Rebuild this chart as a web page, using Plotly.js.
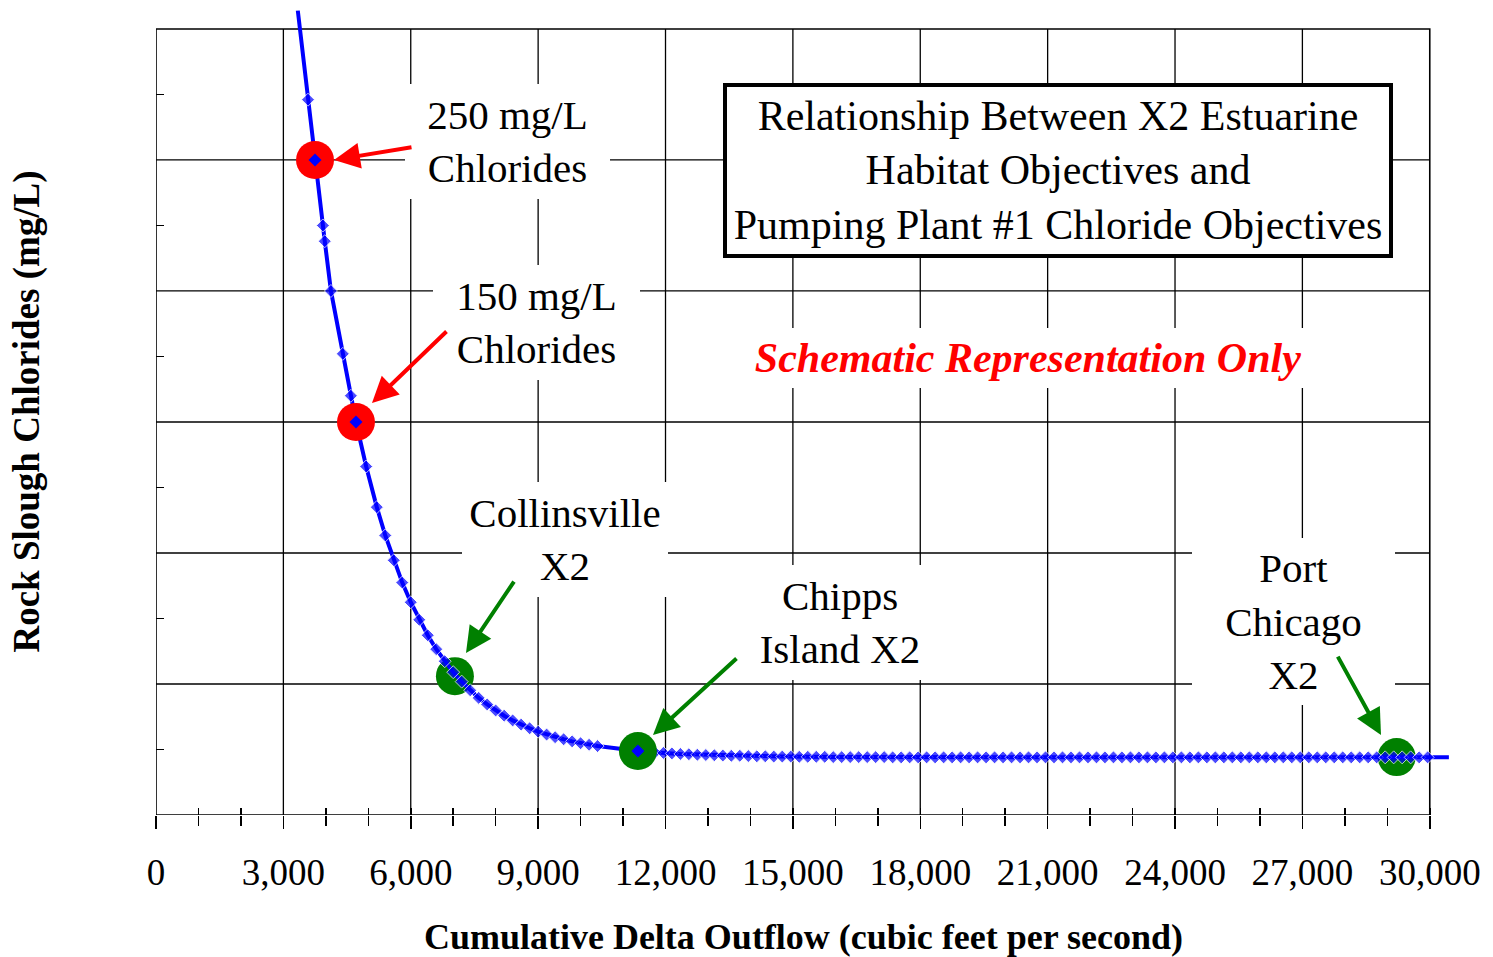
<!DOCTYPE html>
<html>
<head>
<meta charset="utf-8">
<script src="https://cdn.plot.ly/plotly-3.0.1.min.js"></script>
<style>
html,body{margin:0;padding:0;background:#fff;}
#chart{width:1493px;height:957px;}
</style>
</head>
<body>
<div id="chart"></div>
<script>
// ---- Curve: cumulative Delta outflow (cfs) vs Rock Slough chlorides (mg/L) ----
const flowCfs = [
  3340, 3580, 3745, 3930, 3975, 4120, 4400, 4590, 4710, 4950,
  5200, 5400, 5600, 5800, 6000, 6200, 6400, 6600, 6800, 7000,
  7200, 7400, 7600, 7800, 8000, 8200, 8400, 8600, 8800, 9000,
  9200, 9400, 9600, 9800, 10000, 10200, 10400,
  11350, 11550, 11750, 11950, 12150, 12350, 12550, 12750, 12950, 13150,
  13350, 13550, 13750, 13950, 14150, 14350, 14550, 14750, 14950, 15150,
  15350, 15550, 15750, 15950, 16150, 16350, 16550, 16750, 16950, 17150,
  17350, 17550, 17750, 17950, 18150, 18350, 18550, 18750, 18950, 19150,
  19350, 19550, 19750, 19950, 20150, 20350, 20550, 20750, 20950, 21150,
  21350, 21550, 21750, 21950, 22150, 22350, 22550, 22750, 22950, 23150,
  23350, 23550, 23750, 23950, 24150, 24350, 24550, 24750, 24950, 25150,
  25350, 25550, 25750, 25950, 26150, 26350, 26550, 26750, 26950, 27150,
  27350, 27550, 27750, 27950, 28150, 28350, 28550, 28750, 28950, 29150,
  29350, 29550, 29750, 29950, 30450
];
const chlorideMgL = [
  307, 273, 250, 225, 219, 200, 176, 160, 150, 133,
  117.5, 106.7, 97.2, 88.7, 81.2, 74.5, 68.6, 63.3, 58.7, 54.5,
  50.9, 47.6, 44.7, 42.2, 39.9, 37.9, 36.1, 34.5, 33.1, 31.8,
  30.7, 29.7, 28.9, 28.1, 27.4, 26.8, 26.3,
  24.4, 24.1, 23.9, 23.7, 23.5, 23.3, 23.2, 23.0, 22.9, 22.8,
  22.7, 22.6, 22.6, 22.5, 22.4, 22.4, 22.3, 22.3, 22.3, 22.2,
  22.2, 22.2, 22.2, 22.1, 22.1, 22.1, 22.1, 22.1, 22.1, 22.1,
  22.0, 22.0, 22.0, 22.0, 22.0, 22.0, 22.0, 22.0, 22.0, 22.0,
  22.0, 22.0, 22.0, 22.0, 22.0, 22.0, 22.0, 22.0, 22.0, 22.0,
  22.0, 22.0, 22.0, 22.0, 22.0, 22.0, 22.0, 22.0, 22.0, 22.0,
  22.0, 22.0, 22.0, 22.0, 22.0, 22.0, 22.0, 22.0, 22.0, 22.0,
  22.0, 22.0, 22.0, 22.0, 22.0, 22.0, 22.0, 22.0, 22.0, 22.0,
  22.0, 22.0, 22.0, 22.0, 22.0, 22.0, 22.0, 22.0, 22.0, 22.0,
  22.0, 22.0, 22.0, 22.0, 22.0
];

// ---- Chloride objective points ----
const limitNames = ['250 mg/L Chlorides', '150 mg/L Chlorides'];
const limitFlow = [3745, 4710];
const limitChloride = [250, 150];

// ---- X2 location points ----
const x2Names = ['Collinsville X2', 'Chipps Island X2', 'Port Chicago X2'];
const x2Flow = [7040, 11350, 29220];
const x2Chloride = [53, 24.4, 22.1];

// ---- Axis ticks ----
const xTickVals = [0, 3000, 6000, 9000, 12000, 15000, 18000, 21000, 24000, 27000, 30000];
const xTickLabels = ['0', '3,000', '6,000', '9,000', '12,000', '15,000', '18,000', '21,000', '24,000', '27,000', '30,000'];
const yGridVals = [0, 50, 100, 150, 200, 250, 300];
const yMinorVals = [25, 75, 125, 175, 225, 275];

const SERIF = 'Liberation Serif, Times New Roman, serif';
const BLUE = '#0000FF';
const RED = '#FF0000';
const GREEN = '#008000';

const xMax = xTickVals[xTickVals.length - 1];
const yMax = yGridVals[yGridVals.length - 1];

// grid + frame shapes derived from tick arrays
const shapes = [];
xTickVals.slice(1, -1).forEach(v => shapes.push({
  type: 'line', xref: 'x', yref: 'y', x0: v, x1: v, y0: 0, y1: yMax,
  line: {color: '#000', width: 1.3}, layer: 'below'
}));
yGridVals.slice(1, -1).forEach(v => shapes.push({
  type: 'line', xref: 'x', yref: 'y', x0: 0, x1: xMax, y0: v, y1: v,
  line: {color: '#000', width: 1.3}, layer: 'below'
}));
shapes.push({
  type: 'rect', xref: 'x', yref: 'y', x0: 0, x1: xMax, y0: 0, y1: yMax,
  line: {color: '#000', width: 1.6}, layer: 'below'
});

const n = flowCfs.length;
const curveMarkerSize = flowCfs.map((v, i) => (i === 0 || i === n - 1) ? 0 : 10);

const below = [0, 2]; // Collinsville, Port Chicago drawn under the curve
const above = [1];    // Chipps Island drawn over the curve

const traces = [
  {
    x: below.map(i => x2Flow[i]), y: below.map(i => x2Chloride[i]),
    text: below.map(i => x2Names[i]),
    type: 'scatter', mode: 'markers', xaxis: 'x', yaxis: 'y',
    marker: {symbol: 'circle', size: 38, color: GREEN},
    hoverinfo: 'text', showlegend: false
  },
  {
    x: flowCfs, y: chlorideMgL,
    type: 'scatter', mode: 'lines+markers', xaxis: 'x', yaxis: 'y',
    line: {color: BLUE, width: 4},
    marker: {symbol: 'diamond', size: curveMarkerSize, color: BLUE},
    showlegend: false
  },
  {
    x: limitFlow, y: limitChloride, text: limitNames,
    type: 'scatter', mode: 'markers', xaxis: 'x2', yaxis: 'y',
    marker: {symbol: 'circle', size: 38, color: RED},
    hoverinfo: 'text', showlegend: false
  },
  {
    x: above.map(i => x2Flow[i]), y: above.map(i => x2Chloride[i]),
    text: above.map(i => x2Names[i]),
    type: 'scatter', mode: 'markers', xaxis: 'x2', yaxis: 'y',
    marker: {symbol: 'circle', size: 38, color: GREEN},
    hoverinfo: 'text', showlegend: false
  },
  {
    x: limitFlow.concat(above.map(i => x2Flow[i])),
    y: limitChloride.concat(above.map(i => x2Chloride[i])),
    type: 'scatter', mode: 'markers', xaxis: 'x2', yaxis: 'y',
    marker: {symbol: 'diamond', size: 10, color: BLUE},
    hoverinfo: 'skip', showlegend: false
  }
];

function label(text, x, y, w, h, font) {
  return {
    text: text, x: x, y: y, xref: 'x', yref: 'y',
    xanchor: 'center', yanchor: 'middle', align: 'center',
    showarrow: false, bgcolor: '#fff', borderpad: 0, borderwidth: 0,
    width: w, height: h,
    font: font || {family: SERIF, size: 41, color: '#000'}
  };
}
function arrow(x, y, ax, ay, color) {
  return {
    text: '', x: x, y: y, xref: 'x', yref: 'y', ax: ax, ay: ay,
    showarrow: true, arrowhead: 2, arrowsize: 1.3, arrowwidth: 4,
    arrowcolor: color, standoff: 0
  };
}

const annotations = [
  label(limitNames[0].replace(' Chlorides', '<br>Chlorides'), 8290, 257.2, 205, 115),
  label(limitNames[1].replace(' Chlorides', '<br>Chlorides'), 8973, 187.8, 207, 115),
  label('Collinsville<br>X2', 9633, 105, 206, 115),
  label('Chipps<br>Island X2', 16110, 73.3, 190, 115),
  label('Port<br>Chicago<br>X2', 26802, 73.7, 203, 167),
  label('Schematic Representation Only', 20537, 174.4, 570, 60,
        {family: SERIF, size: 42, color: RED, weight: 'bold', style: 'italic'}),
  {
    text: 'Relationship Between X2 Estuarine<br>Habitat Objectives and<br>Pumping Plant #1 Chloride Objectives',
    x: 21244, y: 246, xref: 'x', yref: 'y', xanchor: 'center', yanchor: 'middle',
    align: 'center', showarrow: false, bgcolor: '#fff', bordercolor: '#000',
    borderwidth: 4, borderpad: 1, width: 660, height: 165,
    font: {family: SERIF, size: 42, color: '#000'}
  },
  arrow(4192, 250.0, 79, -13, RED),
  arrow(5087, 157.2, 76, -73, RED),
  arrow(7301, 61.8, 49, -73, GREEN),
  arrow(11705, 30.5, 85, -78, GREEN),
  arrow(28851, 30.5, -44, -80, GREEN)
];

const layout = {
  width: 1493, height: 957,
  margin: {l: 156, r: 42, t: 8, b: 142},
  paper_bgcolor: '#fff', plot_bgcolor: '#fff',
  showlegend: false,
  xaxis: {
    range: [0, 30500], tickmode: 'array', tickvals: xTickVals, ticktext: xTickLabels,
    ticks: 'outside', ticklen: 13, tickwidth: 1.5, tickcolor: '#000',
    ticklabelstandoff: 12,
    showgrid: false, zeroline: false, showline: false, automargin: false,
    tickfont: {family: SERIF, size: 37, color: '#000'},
    minor: {tickmode: 'linear', tick0: 0, dtick: 1000, ticks: 'outside', ticklen: 10, tickwidth: 1.5, tickcolor: '#000', showgrid: false},
    title: {text: 'Cumulative Delta Outflow (cubic feet per second)', standoff: 34,
            font: {family: SERIF, size: 36, color: '#000', weight: 'bold'}}
  },
  xaxis2: {
    overlaying: 'x', anchor: 'y', side: 'bottom', range: [0, 30500],
    tickmode: 'linear', tick0: 0, dtick: 1000,
    ticks: 'inside', ticklen: 7, tickwidth: 1.5, tickcolor: '#000',
    showticklabels: false, showgrid: false, zeroline: false, showline: false
  },
  yaxis: {
    range: [0, 308], tickmode: 'array', tickvals: yMinorVals,
    ticks: 'inside', ticklen: 8, tickwidth: 1.5, tickcolor: '#000',
    showticklabels: false, showgrid: false, zeroline: false, showline: false, automargin: false,
    title: {text: 'Rock Slough Chlorides (mg/L)', standoff: 104,
            font: {family: SERIF, size: 37, color: '#000', weight: 'bold'}}
  },
  shapes: shapes,
  annotations: annotations
};

Plotly.newPlot('chart', traces, layout, {displayModeBar: false, staticPlot: true});
</script>
</body>
</html>
